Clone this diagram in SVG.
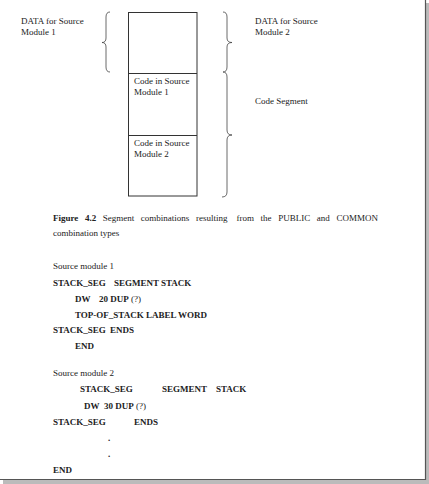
<svg xmlns="http://www.w3.org/2000/svg" width="429" height="484" viewBox="0 0 429 484">
<style>
text{font-family:"Liberation Serif","Times New Roman",serif;font-size:9px;fill:#222}
.b{font-weight:bold}
.n{font-weight:normal}
.box{fill:none;stroke:#333;stroke-width:1}
.brace{fill:none;stroke:#444;stroke-width:0.8}
</style>
<rect x="0" y="0" width="429" height="484" fill="#fff"/>
<rect x="425" y="3" width="4" height="481" fill="#bbb"/>
<rect x="3" y="480" width="426" height="4" fill="#bbb"/>
<line x1="425.5" y1="0" x2="425.5" y2="480" stroke="#555" stroke-width="1.2"/>
<line x1="0" y1="479.5" x2="426" y2="479.5" stroke="#555" stroke-width="1.2"/>
<g id="segment-box">
<rect class="box" x="128.5" y="12.5" width="68.5" height="183.5"/>
<line class="box" x1="128.5" y1="73.5" x2="197" y2="73.5"/>
<line class="box" x1="128.5" y1="135.5" x2="197" y2="135.5"/>
</g>
<g id="code-module-1">
<text x="134" y="84">Code in Source</text>
<text x="134" y="95">Module 1</text>
</g>
<g id="code-module-2">
<text x="134" y="146">Code in Source</text>
<text x="134" y="157">Module 2</text>
</g>
<g id="data-module-1">
<text x="21" y="23.5">DATA for Source</text>
<text x="21" y="34.5">Module 1</text>
</g>
<g id="data-module-2">
<text x="255" y="23.5">DATA for Source</text>
<text x="255" y="34.5">Module 2</text>
</g>
<g id="code-segment">
<text x="255" y="104">Code Segment</text>
</g>
<g id="connectors">
<path class="brace" d="M110,12 Q106,12 106,17 L106,38 Q106,42.5 102,42.5 Q106,42.5 106,47 L106,67 Q106,72 110,72"/>
<path class="brace" d="M223,12 Q227,12 227,17 L227,38 Q227,42.5 232,42.5 Q227,42.5 227,47 L227,67 Q227,72 223,72"/>
<path class="brace" d="M223,72 Q227,72 227,77 L227,130 Q227,135 232,135 Q227,135 227,140 L227,192 Q227,197 222,197"/>
</g>
<g id="caption">
<text y="221"><tspan class="b" x="53">Figure</tspan><tspan class="b" x="85">4.2</tspan><tspan x="102.7">Segment</tspan><tspan x="140.8">combinations</tspan><tspan x="195.9">resulting</tspan><tspan x="236.5">from</tspan><tspan x="260.6">the</tspan><tspan x="278.2">PUBLIC</tspan><tspan x="316.8">and</tspan><tspan x="336.4">COMMON</tspan></text>
<text x="53" y="236">combination types</text>
</g>
<g id="code">
<text x="53" y="269">Source module 1</text>
<text class="b" x="53" y="286">STACK_SEG<tspan x="114">SEGMENT</tspan><tspan x="161">STACK</tspan></text>
<text class="b" x="75" y="302">DW<tspan x="99">20 DUP</tspan><tspan class="n"> (?)</tspan></text>
<text class="b" x="75" y="317.5">TOP-OF_STACK LABEL WORD</text>
<text class="b" x="53" y="333">STACK_SEG<tspan x="110">ENDS</tspan></text>
<text class="b" x="75" y="349">END</text>
<text x="53" y="376">Source module 2</text>
<text class="b" x="80" y="392">STACK_SEG<tspan x="162">SEGMENT</tspan><tspan x="216">STACK</tspan></text>
<text class="b" x="84" y="408.5">DW<tspan x="104">30 DUP</tspan><tspan class="n"> (?)</tspan></text>
<text class="b" x="53" y="425">STACK_SEG<tspan x="134">ENDS</tspan></text>
<text class="b" x="108" y="441">.</text>
<text class="b" x="108" y="457">.</text>
<text class="b" x="53" y="473">END</text>
</g>
</svg>
